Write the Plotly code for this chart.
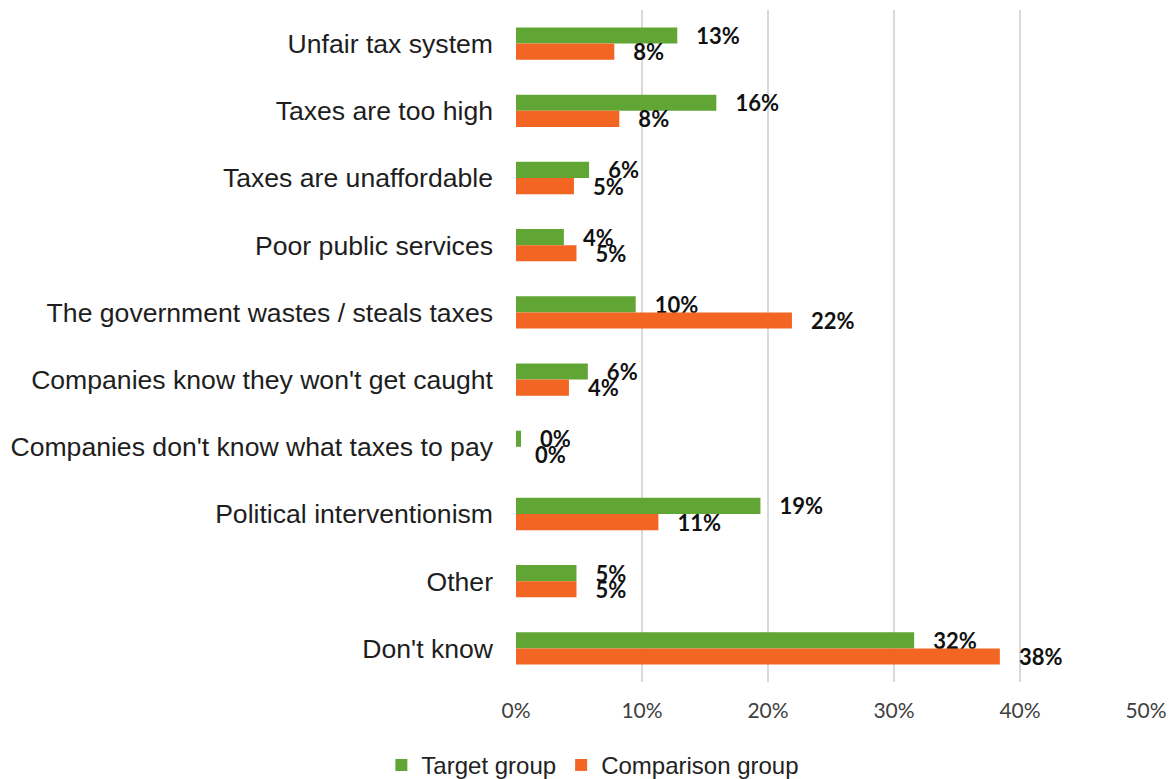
import plotly.graph_objects as go

# Reasons given for tax evasion, share of respondents (%)
categories = [
    "Unfair tax system",
    "Taxes are too high",
    "Taxes are unaffordable",
    "Poor public services",
    "The government wastes / steals taxes",
    "Companies know they won't get caught",
    "Companies don't know what taxes to pay",
    "Political interventionism",
    "Other",
    "Don't know",
]
target_group = [12.8, 15.9, 5.8, 3.8, 9.5, 5.7, 0.4, 19.4, 4.8, 31.6]
comparison_group = [7.8, 8.2, 4.6, 4.8, 21.9, 4.2, 0.0, 11.3, 4.8, 38.4]
x_ticks = [0, 10, 20, 30, 40, 50]
x_tick_labels = ["0%", "10%", "20%", "30%", "40%", "50%"]

GREEN = "#61A535"
ORANGE = "#F26522"
LABEL_PAD = "\u00a0\u00a0\u00a0"

fig = go.Figure()
for name, values, color in [
    ("Target group", target_group, GREEN),
    ("Comparison group", comparison_group, ORANGE),
]:
    fig.add_trace(go.Bar(
        y=categories,
        x=values,
        name=name,
        orientation="h",
        marker=dict(color=color, line=dict(width=0)),
        texttemplate=LABEL_PAD + "%{x:.0f}%",
        textposition="outside",
        constraintext="none",
        cliponaxis=False,
        textfont=dict(family="Lato", size=22, color="#111111", weight="bold"),
    ))

fig.update_layout(
    width=1171,
    height=779,
    margin=dict(l=516, r=25, t=10, b=97, autoexpand=False),
    paper_bgcolor="white",
    plot_bgcolor="white",
    barmode="group",
    bargap=0.52,
    bargroupgap=0,
    showlegend=True,
    legend=dict(
        orientation="h",
        x=0.122,
        xanchor="center",
        y=-0.124,
        yanchor="middle",
        font=dict(family="Liberation Sans, Arial", size=24, color="#222222"),
        itemwidth=30,
        traceorder="normal",
    ),
    xaxis=dict(
        range=[0, 50],
        tickvals=x_ticks,
        ticktext=x_tick_labels,
        showgrid=True,
        gridcolor="#D9D9D9",
        gridwidth=2,
        zeroline=False,
        showline=False,
        ticks="",
        ticklabelstandoff=14,
        tickfont=dict(family="Lato", size=21, color="#404040"),
        fixedrange=True,
    ),
    yaxis=dict(
        autorange="reversed",
        showgrid=False,
        zeroline=False,
        showline=False,
        ticks="",
        ticklabelstandoff=22,
        tickfont=dict(family="Liberation Sans, Arial", size=26.6, color="#1E1E1E"),
        fixedrange=True,
    ),
)

fig.write_html("out.html")
